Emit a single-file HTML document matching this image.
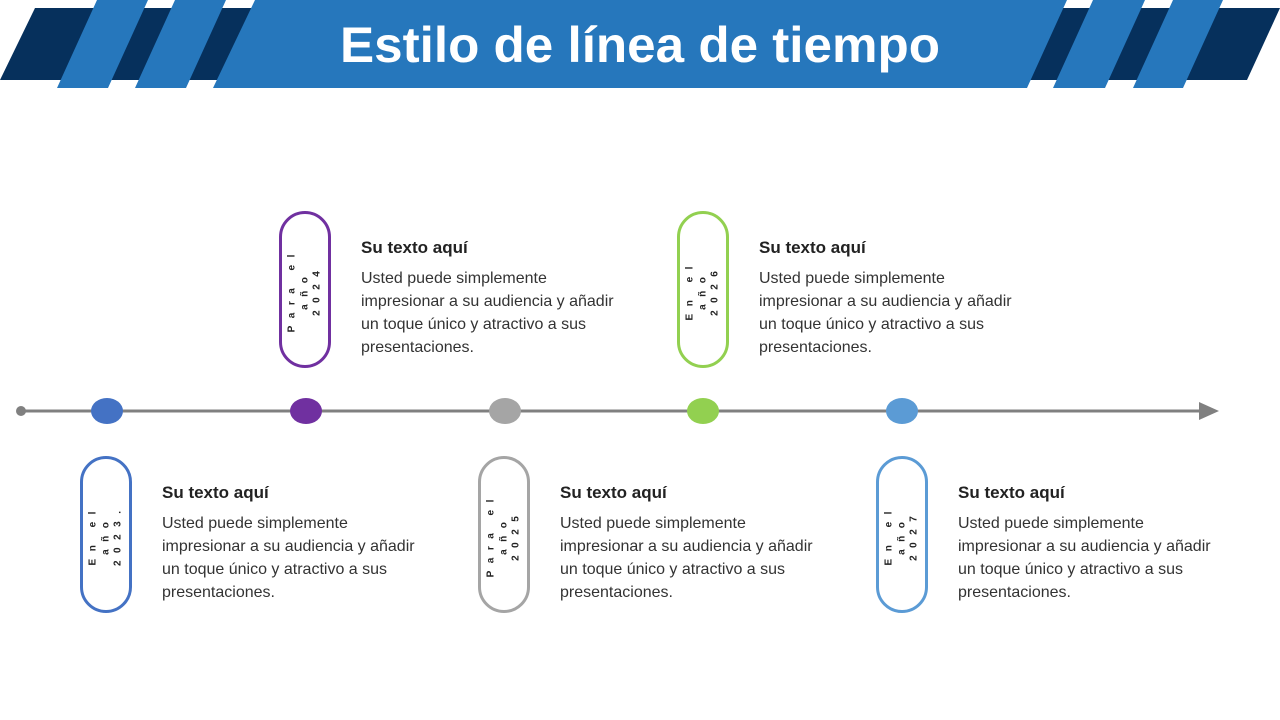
<!DOCTYPE html>
<html><head><meta charset="utf-8"><style>
body{margin:0;width:1280px;height:720px;background:#fff;position:relative;overflow:hidden;font-family:"Liberation Sans",sans-serif}
.t{position:absolute;left:0;top:0}
.pill{position:absolute;width:46px;height:151px;border:3px solid;border-radius:27px;box-sizing:content-box}
.rot{position:absolute;width:150px;left:50%;top:50%;margin-left:-75px;margin-top:-19px;transform:rotate(-90deg);text-align:center;font-size:10px;font-weight:bold;letter-spacing:7.5px;line-height:12.5px;color:#222}
.tx{position:absolute;width:320px;color:#333;font-size:16px;line-height:23px;white-space:nowrap}
.tx b{display:block;font-size:17px;color:#222;margin-bottom:8px}
</style></head><body>
<svg class="t" width="1280" height="720">
<polygon points="35,8 1280,8 1247,80 0,80" fill="#06305c"/>
<polygon points="97,0 148,0 108,88 57,88" fill="#2677bc"/>
<polygon points="175,0 226,0 186,88 135,88" fill="#2677bc"/>
<polygon points="255,0 1067,0 1027,88 213,88" fill="#2677bc"/>
<polygon points="1093,0 1145,0 1105,88 1053,88" fill="#2677bc"/>
<polygon points="1173,0 1223,0 1183,88 1133,88" fill="#2677bc"/>
<text x="640" y="62" text-anchor="middle" fill="#fff" font-family="Liberation Sans" font-weight="bold" font-size="50" textLength="600" lengthAdjust="spacingAndGlyphs">Estilo de línea de tiempo</text>
<line x1="21" y1="411" x2="1202" y2="411" stroke="#808080" stroke-width="3"/>
<circle cx="21" cy="411" r="5" fill="#808080"/>
<polygon points="1199,402 1219,411 1199,420" fill="#808080"/>
<ellipse cx="107" cy="411" rx="16" ry="13" fill="#4472c4"/>
<ellipse cx="306" cy="411" rx="16" ry="13" fill="#7030a0"/>
<ellipse cx="505" cy="411" rx="16" ry="13" fill="#a5a5a5"/>
<ellipse cx="703" cy="411" rx="16" ry="13" fill="#92d050"/>
<ellipse cx="902" cy="411" rx="16" ry="13" fill="#5b9bd5"/>
</svg>
<div class="pill" style="left:80px;top:456px;border-color:#4472c4"><div class="rot">En el<br>año<br>2023.</div></div>
<div class="pill" style="left:279px;top:211px;border-color:#7030a0"><div class="rot">Para el<br>año<br>2024</div></div>
<div class="pill" style="left:478px;top:456px;border-color:#a5a5a5"><div class="rot">Para el<br>año<br>2025</div></div>
<div class="pill" style="left:677px;top:211px;border-color:#92d050"><div class="rot">En el<br>año<br>2026</div></div>
<div class="pill" style="left:876px;top:456px;border-color:#5b9bd5"><div class="rot">En el<br>año<br>2027</div></div>
<div class="tx" style="left:162px;top:481px"><b>Su texto aquí</b>Usted puede simplemente<br>impresionar a su audiencia y añadir<br>un toque único y atractivo a sus<br>presentaciones.</div>
<div class="tx" style="left:361px;top:236px"><b>Su texto aquí</b>Usted puede simplemente<br>impresionar a su audiencia y añadir<br>un toque único y atractivo a sus<br>presentaciones.</div>
<div class="tx" style="left:560px;top:481px"><b>Su texto aquí</b>Usted puede simplemente<br>impresionar a su audiencia y añadir<br>un toque único y atractivo a sus<br>presentaciones.</div>
<div class="tx" style="left:759px;top:236px"><b>Su texto aquí</b>Usted puede simplemente<br>impresionar a su audiencia y añadir<br>un toque único y atractivo a sus<br>presentaciones.</div>
<div class="tx" style="left:958px;top:481px"><b>Su texto aquí</b>Usted puede simplemente<br>impresionar a su audiencia y añadir<br>un toque único y atractivo a sus<br>presentaciones.</div>
</body></html>
